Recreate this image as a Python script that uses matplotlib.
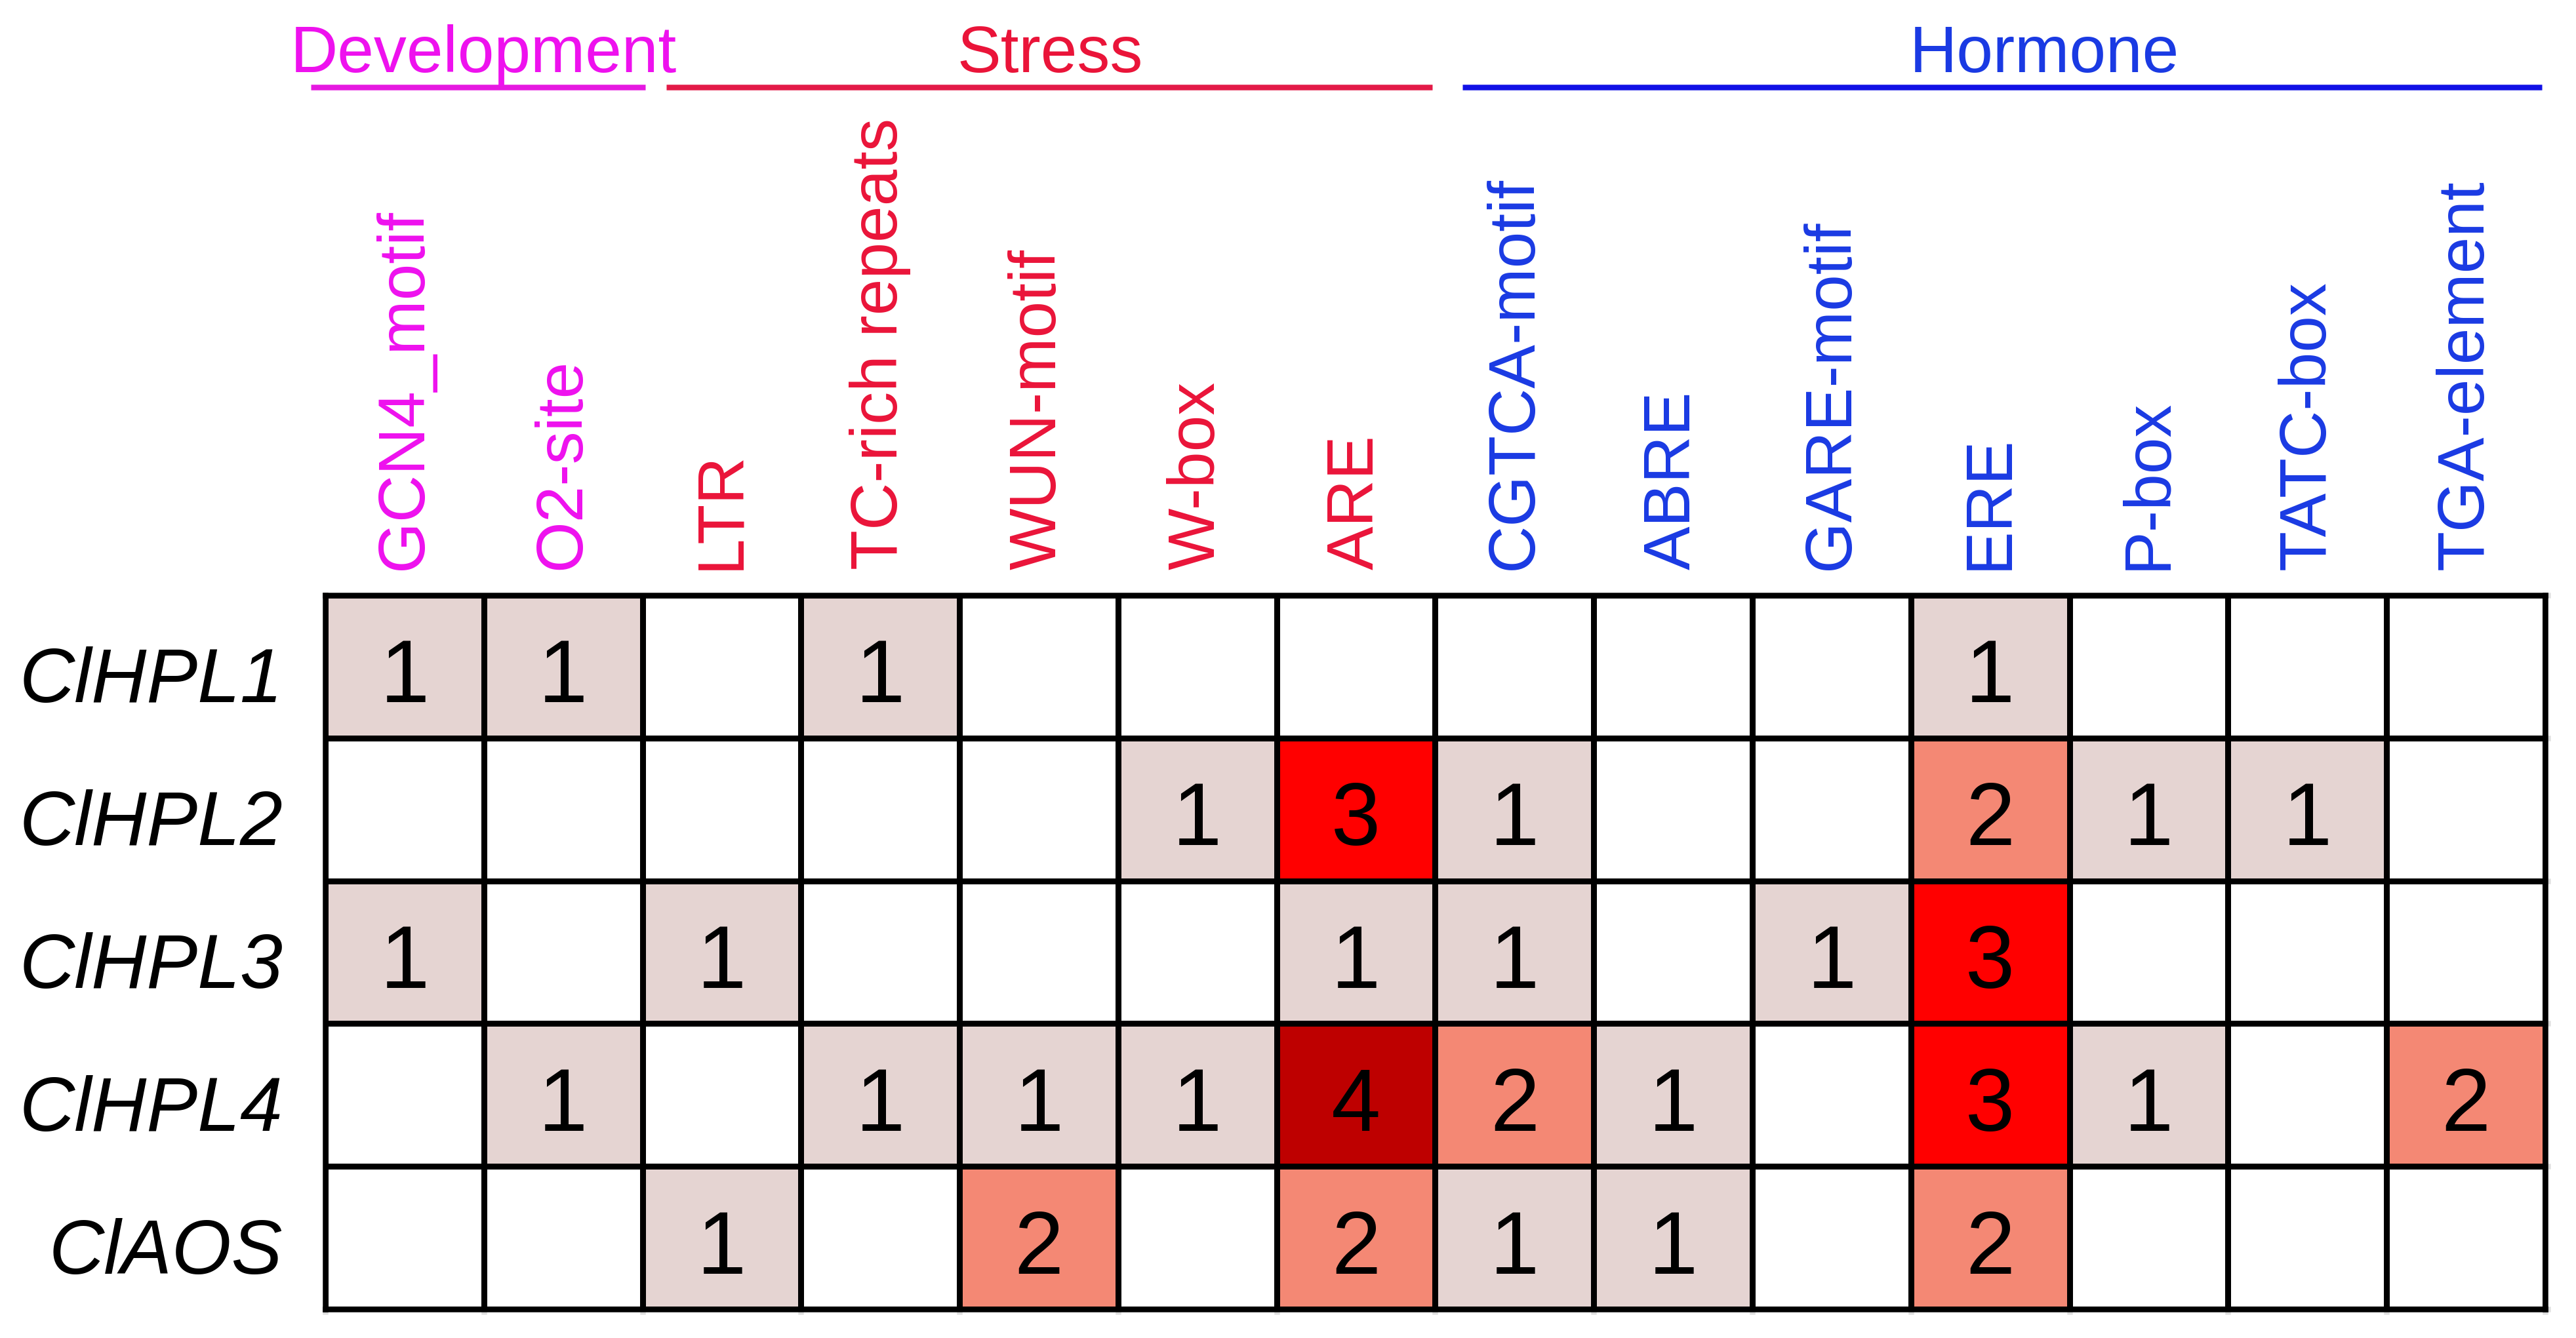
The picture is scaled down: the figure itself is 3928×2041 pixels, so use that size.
import numpy as np
import matplotlib
matplotlib.use("Agg")
import matplotlib.pyplot as plt
import matplotlib.transforms as mtransforms
from matplotlib.colors import ListedColormap, BoundaryNorm

plt.rcParams["font.family"] = ["Liberation Sans", "DejaVu Sans"]

# ---- data ----
genes = ["ClHPL1", "ClHPL2", "ClHPL3", "ClHPL4", "ClAOS"]
elements = ["GCN4_motif", "O2-site", "LTR", "TC-rich repeats", "WUN-motif",
            "W-box", "ARE", "CGTCA-motif", "ABRE", "GARE-motif", "ERE",
            "P-box", "TATC-box", "TGA-element"]
element_group = ["Development", "Development", "Stress", "Stress", "Stress",
                 "Stress", "Stress", "Hormone", "Hormone", "Hormone", "Hormone",
                 "Hormone", "Hormone", "Hormone"]
counts_hpl1 = [1, 1, 0, 1, 0, 0, 0, 0, 0, 0, 1, 0, 0, 0]
counts_hpl2 = [0, 0, 0, 0, 0, 1, 3, 1, 0, 0, 2, 1, 1, 0]
counts_hpl3 = [1, 0, 1, 0, 0, 0, 1, 1, 0, 1, 3, 0, 0, 0]
counts_hpl4 = [0, 1, 0, 1, 1, 1, 4, 2, 1, 0, 3, 1, 0, 2]
counts_aos = [0, 0, 1, 0, 2, 0, 2, 1, 1, 0, 2, 0, 0, 0]

groups = ["Development", "Stress", "Hormone"]

# ---- styling / layout ----
text_colors = {"Development": "#EE11EE", "Stress": "#EA1439", "Hormone": "#1A3AE3"}
line_colors = {"Development": "#E619E1", "Stress": "#E31A47", "Hormone": "#1111E6"}
# header span (start, end) and text centre, in column units
group_span = {"Development": (-0.09, 2.02), "Stress": (2.15, 6.98), "Hormone": (7.17, 13.98)}
group_text_x = {"Development": 1.0, "Stress": 4.57, "Hormone": 10.84}
cell_colors = ["white", "#E5D4D2", "#F48874", "#FF0000", "#BE0000"]

W, H, DPI = 3929, 2041, 300
LW = 8.5 / DPI * 72  # ~8 px lines

mat = np.array([counts_hpl1, counts_hpl2, counts_hpl3, counts_hpl4, counts_aos])
n_rows, n_cols = mat.shape

fig = plt.figure(figsize=(W / DPI, H / DPI), dpi=DPI)
ax = fig.add_axes([496 / W, 1 - 1997 / H, 3385 / W, 1089 / H])

cmap = ListedColormap(cell_colors)
norm = BoundaryNorm(np.arange(-0.5, 5.5, 1), cmap.N)
ax.pcolormesh(np.arange(n_cols + 1), np.arange(n_rows + 1), mat, cmap=cmap, norm=norm,
              edgecolors="black", linewidth=LW)
ax.set_xlim(0, n_cols)
ax.set_ylim(n_rows, 0)

# numbers: baseline sits at ~3/4 of the cell height
for r in range(n_rows):
    for c in range(n_cols):
        if mat[r, c] > 0:
            ax.text(c + 0.5, r + 0.75, str(mat[r, c]), ha="center", va="baseline",
                    fontsize=32.5, color="black")

for s in ax.spines.values():
    s.set_linewidth(LW)
    s.set_color("black")

# column labels on top
ax.xaxis.tick_top()
ax.set_xticks(np.arange(n_cols) + 0.5)
ax.set_xticklabels(elements, rotation=90, fontsize=24, ha="center", va="bottom")
for lab, g in zip(ax.get_xticklabels(), element_group):
    lab.set_color(text_colors[g])
ax.tick_params(axis="x", which="major", length=0, pad=9.4)

# row labels
ax.set_yticks(np.arange(n_rows) + 0.75)
ax.set_yticklabels(genes, fontsize=28, style="italic", va="baseline")
ax.tick_params(axis="y", which="major", length=0, pad=15.5)

# faint minor ticks at cell boundaries (bottom and right)
ax.set_xticks(np.arange(n_cols + 1), minor=True)
ax.set_yticks(np.arange(n_rows + 1), minor=True)
ax.tick_params(which="minor", bottom=True, top=False, left=False, right=True,
               length=1.8, width=LW, color="#DDDDDD", labelbottom=False,
               labelright=False)

# group headers
trans = mtransforms.blended_transform_factory(ax.transData, fig.transFigure)
for g in groups:
    x0, x1 = group_span[g]
    ax.plot([x0, x1], [1 - 133 / H] * 2, transform=trans, color=line_colors[g],
            lw=LW, solid_capstyle="butt", clip_on=False)
    ax.text(group_text_x[g], 1 - 110 / H, g, transform=trans, ha="center",
            va="baseline", fontsize=24, color=text_colors[g])

fig.savefig("out.png", dpi=DPI)
